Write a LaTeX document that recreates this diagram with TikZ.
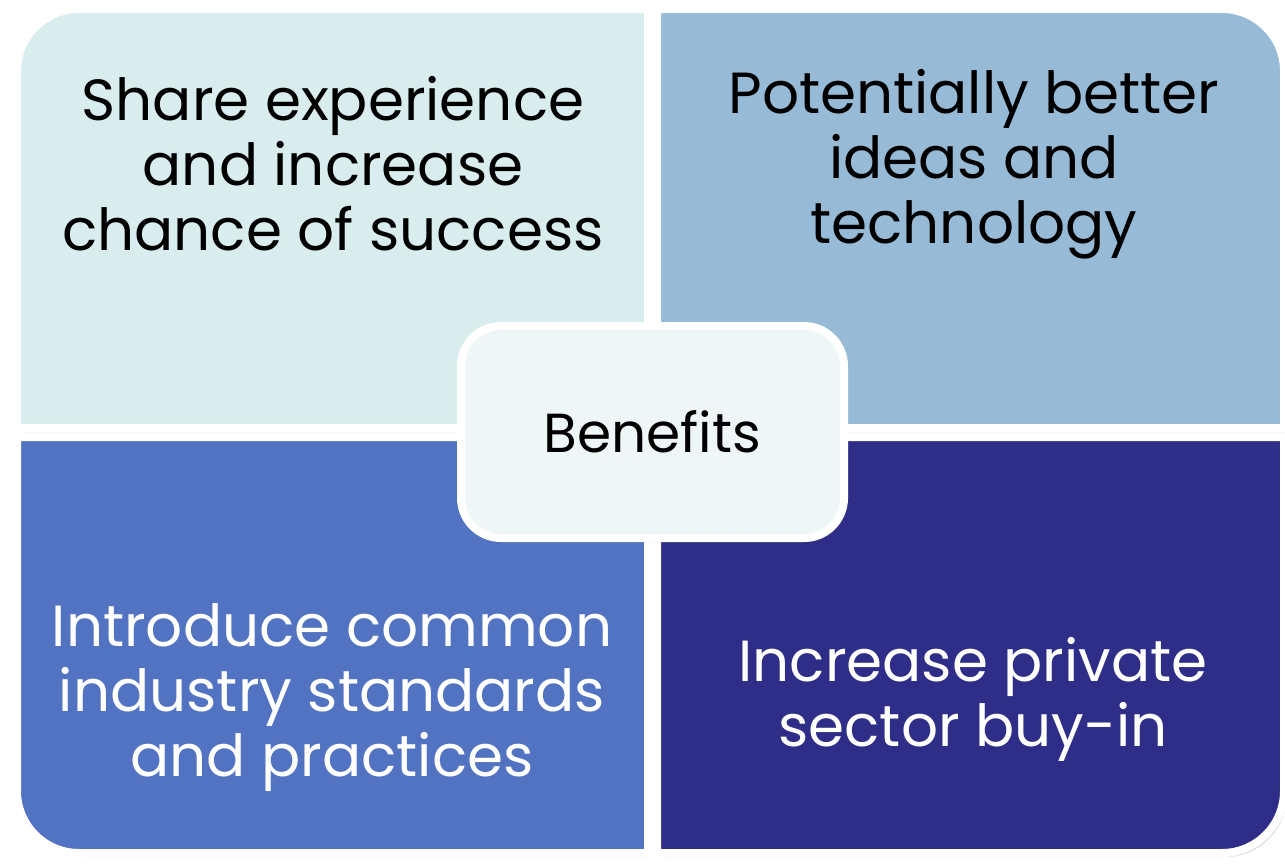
\documentclass[tikz,border=0pt]{standalone}
\usepackage{fontspec}
\setmainfont{Poppins}
\usetikzlibrary{shadows}
\definecolor{paleteal}{HTML}{D9ECEE}
\definecolor{skyblue}{HTML}{97BBD6}
\definecolor{midblue}{HTML}{5272C2}
\definecolor{deepblue}{HTML}{2E2E88}
\definecolor{hubfill}{HTML}{EEF6F8}
\begin{document}
\begin{tikzpicture}[x=1pt,y=1pt,
        quad/.style={draw=white, line width=8pt, drop shadow={shadow xshift=3pt, shadow yshift=-4pt, opacity=0.35}},
        quadtext/.style={align=center, font=\fontsize{58}{65}\selectfont, inner sep=0pt},
        hub/.style={draw=white, line width=8pt, fill=hubfill, rounded corners=40pt,
                minimum width=383pt, minimum height=212pt, inner sep=0pt,
                font=\fontsize{55}{60}\selectfont,
                drop shadow={shadow xshift=2pt, shadow yshift=-4pt, opacity=0.4}}]
        \useasboundingbox (0,0) rectangle (1285,-865);
        \fill [white] (0,0) rectangle (1285,-865);
        % four quadrants
        \path [quad, fill=paleteal] (648,-428) -- (17,-428) -- (17,-71) arc[start angle=180, end angle=90, radius=62] -- (648,-9) -- cycle;
        \path [quad, fill=skyblue] (657,-428) -- (657,-9) -- (1222,-9) arc[start angle=90, end angle=0, radius=62] -- (1284,-428) -- cycle;
        \path [quad, fill=midblue] (648,-437) -- (17,-437) -- (17,-791) arc[start angle=180, end angle=270, radius=62] -- (648,-853) -- cycle;
        \path [quad, fill=deepblue] (657,-437) -- (657,-853) -- (1222,-853) arc[start angle=270, end angle=360, radius=62] -- (1284,-437) -- cycle;
        % texts
        \node [quadtext, text=black] (share) at (333,-164) {Share experience\\and increase\\chance of success};
        \node [quadtext, text=black] (ideas) at (974,-164) {Potentially better\\ideas and\\technology};
        \node [quadtext, text=white] (standards) at (332,-698) {Introduce common\\industry standards\\and practices};
        \node [quadtext, text=white] (buyin) at (973,-699) {Increase private\\sector buy-in};
        % centre
        \node [hub] (benefits) at (652.5,-432) {Benefits};
\end{tikzpicture}
\end{document}
